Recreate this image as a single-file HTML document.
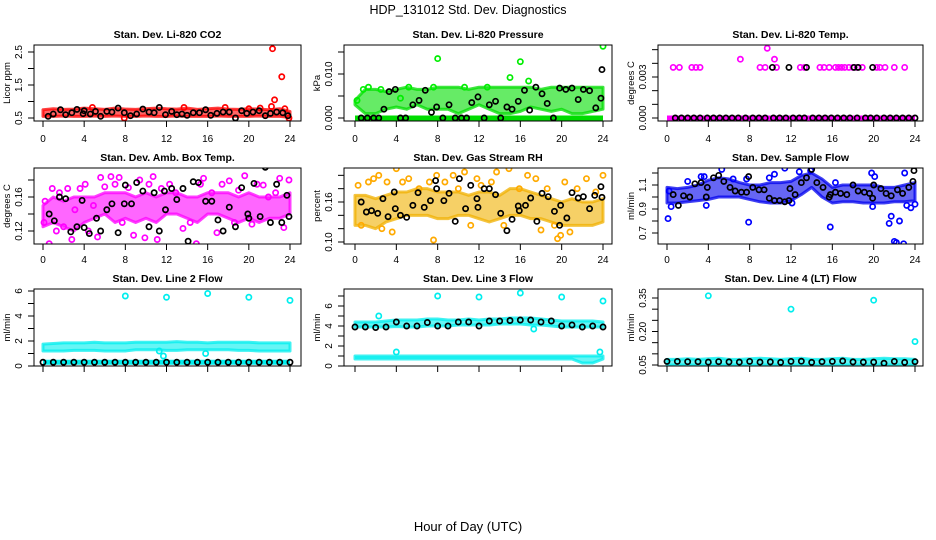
<!DOCTYPE html>
<html><head><meta charset="utf-8">
<style>
html,body{margin:0;padding:0;background:#fff;}
svg{display:block;font-family:"Liberation Sans",sans-serif;}
</style></head>
<body>
<svg id="chart" width="936" height="540" viewBox="0 0 936 540" xmlns="http://www.w3.org/2000/svg">
<rect width="936" height="540" fill="#fff"/>
<text x="468" y="14" font-size="12.5" text-anchor="middle">HDP_131012  Std. Dev. Diagnostics</text>
<text x="468" y="531" font-size="13" text-anchor="middle">Hour of Day (UTC)</text>
</svg>
<script>
const hours=[0,1,2,3,4,5,6,7,8,9,10,11,12,13,14,15,16,17,18,19,20,21,22,23,24];
const xTicks=[0,4,8,12,16,20,24];
const xTickLabels=["0","4","8","12","16","20","24"];
const panelTitles=["Stan. Dev. Li-820 CO2","Stan. Dev. Li-820 Pressure","Stan. Dev. Li-820 Temp.","Stan. Dev. Amb. Box Temp.","Stan. Dev. Gas Stream RH","Stan. Dev. Sample Flow","Stan. Dev. Line 2 Flow","Stan. Dev. Line 3 Flow","Stan. Dev. Line 4 (LT) Flow"];
const yTitles=["Licor ppm","kPa","degrees C","degrees C","percent","ml/min","ml/min","ml/min","ml/min"];

// P1 CO2
const co2Lo=[0.55,0.55,0.56,0.55,0.55,0.56,0.55,0.56,0.55,0.55,0.56,0.55,0.55,0.56,0.55,0.55,0.55,0.56,0.55,0.55,0.55,0.56,0.55,0.55,0.52];
const co2Hi=[0.75,0.78,0.76,0.77,0.8,0.78,0.76,0.8,0.77,0.76,0.78,0.8,0.78,0.77,0.8,0.76,0.78,0.8,0.77,0.76,0.78,0.77,0.75,0.78,0.7];
const co2RedX=[22.3,23.2,22.5,22.2,7.9,13.7,23.9,4.8,17.7,20.0,21.1,23.5];
const co2RedY=[2.6,1.75,1.05,0.85,0.5,0.82,0.5,0.82,0.82,0.78,0.8,0.78];
const co2BlkX=[0.5,1.0,1.7,2.2,2.8,3.3,3.9,4.0,4.6,5.1,5.6,6.2,6.7,7.3,7.9,8.5,9.1,9.7,10.3,10.8,11.3,11.9,12.5,13.0,13.5,14.0,14.6,15.2,15.8,16.3,16.9,17.5,18.1,18.7,19.3,19.8,20.4,21.0,21.6,22.1,22.7,23.3,23.8];
const co2BlkY=[0.55,0.62,0.75,0.6,0.66,0.76,0.63,0.72,0.62,0.7,0.55,0.7,0.68,0.8,0.66,0.57,0.62,0.77,0.68,0.66,0.82,0.6,0.7,0.6,0.62,0.58,0.66,0.66,0.75,0.58,0.64,0.68,0.68,0.5,0.72,0.64,0.68,0.72,0.57,0.64,0.68,0.66,0.57];
// P2 pressure
const presLo=[0.003,0.001,0.001,0.002,0.0025,0.002,0.003,0.002,0.002,0.002,0.001,0.002,0.003,0.002,0.001,0.001,0.0015,0.0025,0.002,0.0015,0.002,0.001,0.001,0.0015,0.002];
const presHi=[0.004,0.0065,0.0065,0.006,0.0065,0.007,0.0065,0.0065,0.007,0.007,0.007,0.0065,0.007,0.007,0.007,0.007,0.007,0.007,0.0065,0.007,0.007,0.007,0.007,0.007,0.007];
const presZero=[0,0,0,0,0,0,0,0,0,0,0,0,0,0,0,0,0,0,0,0,0,0,0,0,0];
const presGrnX=[8,16,15,16.8,24,0.2,1.3,0.8,2.5,4.4,5.2,7.6,10.6,12.8];
const presGrnY=[0.0135,0.0128,0.0092,0.0084,0.0163,0.004,0.007,0.0065,0.0065,0.0045,0.007,0.007,0.007,0.007];
const presBlkX=[0.6,1.2,1.8,2.3,2.8,3.3,3.9,4.4,4.9,5.6,6.2,6.8,7.4,7.9,8.5,9.1,9.7,10.3,10.8,11.3,11.9,12.5,13.0,13.6,14.1,14.7,15.2,15.8,16.4,16.9,17.5,18.1,18.6,19.2,19.8,20.4,21.0,21.6,22.1,22.7,23.3,23.8,23.9];
const presBlkY=[0,0,0,0,0.002,0.006,0.0065,0,0,0.003,0.004,0.0063,0.0013,0.0025,0,0.003,0,0,0,0.0035,0.0048,0,0.003,0.0038,0,0.0025,0.002,0.0038,0.0063,0.0018,0.007,0.0055,0.0033,0,0.0068,0.0065,0.0068,0.0042,0.0065,0.0062,0.0023,0.0045,0.011];
// P3 Li-820 temp
const tmpZero=[0,0,0,0,0,0,0,0,0,0,0,0,0,0,0,0,0,0,0,0,0,0,0,0,0];
const tmpMagX=[0.6,1.2,2.4,2.8,3.2,9.0,9.5,10.6,12.9,13.3,14.8,15.2,15.7,16.3,16.6,16.9,17.2,17.6,18.0,18.4,18.9,20.3,20.6,21.1,22.0,23.0,7.1,9.7,10.4];
const tmpMagY=[0.0037,0.0037,0.0037,0.0037,0.0037,0.0037,0.0037,0.0037,0.0037,0.0037,0.0037,0.0037,0.0037,0.0037,0.0037,0.0037,0.0037,0.0037,0.0037,0.0037,0.0037,0.0037,0.0037,0.0037,0.0037,0.0037,0.0043,0.0051,0.0043];
const tmpBlkX=[0.8,1.4,2.0,2.6,3.2,3.9,4.5,5.1,5.7,6.3,6.9,7.6,8.3,8.9,9.5,10.3,10.9,11.5,12.2,12.8,13.3,14.1,14.7,15.3,15.9,16.5,17.1,17.7,18.4,19.2,19.7,20.3,21.0,21.6,22.2,22.8,23.4,24.0,10.2,11.8,13.5,18.1,18.5,19.9];
const tmpBlkY=[0,0,0,0,0,0,0,0,0,0,0,0,0,0,0,0,0,0,0,0,0,0,0,0,0,0,0,0,0,0,0,0,0,0,0,0,0,0,0.0037,0.0037,0.0037,0.0037,0.0037,0.0037];
// P4 amb box temp
const ambLo=[0.125,0.13,0.125,0.12,0.13,0.135,0.14,0.13,0.135,0.13,0.135,0.13,0.14,0.14,0.135,0.13,0.14,0.14,0.135,0.13,0.135,0.13,0.135,0.135,0.14];
const ambHi=[0.15,0.16,0.155,0.16,0.16,0.16,0.165,0.165,0.165,0.16,0.165,0.16,0.165,0.165,0.16,0.16,0.165,0.165,0.165,0.16,0.165,0.16,0.16,0.16,0.165];
const ambMagX=[0.1,0.2,0.6,0.9,1.3,1.6,2.0,2.4,2.8,3.1,3.6,4.1,4.4,4.9,5.3,5.6,6.0,6.6,7.0,7.4,7.7,8.3,8.8,9.4,9.9,10.3,10.7,11.1,11.5,12.3,12.9,13.6,14.3,14.9,15.3,15.6,16.4,16.9,17.4,18.1,18.6,19.0,19.6,19.9,20.3,20.8,21.4,21.9,22.3,22.6,23.0,23.4,23.9];
const ambMagY=[0.13,0.155,0.105,0.17,0.12,0.165,0.125,0.17,0.11,0.145,0.17,0.175,0.12,0.15,0.113,0.183,0.172,0.184,0.175,0.183,0.13,0.171,0.115,0.18,0.112,0.175,0.184,0.11,0.17,0.175,0.165,0.123,0.13,0.105,0.175,0.182,0.165,0.118,0.175,0.179,0.13,0.168,0.185,0.199,0.128,0.175,0.174,0.16,0.098,0.165,0.182,0.124,0.18];
const ambBlkX=[0.6,1.1,1.6,2.2,2.7,3.3,3.8,4.0,4.5,5.2,5.6,6.2,6.7,7.3,7.9,8.0,8.6,9.1,9.7,10.3,10.8,11.3,11.8,11.9,12.5,13.0,13.6,14.1,14.6,15.1,15.8,15.9,16.4,17.0,17.5,18.1,18.7,19.3,19.9,20.0,20.5,21.1,21.6,22.1,22.7,23.2,23.7,23.9];
const ambBlkY=[0.14,0.132,0.16,0.158,0.119,0.125,0.156,0.124,0.117,0.135,0.12,0.145,0.152,0.118,0.152,0.174,0.152,0.177,0.167,0.125,0.165,0.12,0.167,0.145,0.17,0.157,0.17,0.108,0.178,0.177,0.155,0.2,0.155,0.133,0.12,0.148,0.125,0.171,0.14,0.135,0.176,0.137,0.195,0.13,0.175,0.13,0.162,0.137];
// P5 RH
const rhLo=[0.125,0.125,0.12,0.13,0.135,0.14,0.14,0.14,0.135,0.135,0.14,0.14,0.135,0.13,0.135,0.14,0.14,0.135,0.135,0.13,0.125,0.125,0.125,0.125,0.13];
const rhHi=[0.17,0.17,0.165,0.17,0.175,0.175,0.18,0.18,0.175,0.175,0.175,0.17,0.175,0.175,0.17,0.18,0.18,0.175,0.17,0.165,0.16,0.165,0.16,0.16,0.165];
const rhOrX=[0.3,0.6,1.3,1.8,2.3,2.6,3.1,3.6,4.0,4.6,5.2,6.2,7.2,7.6,7.9,8.7,9.5,10.0,10.6,11.2,11.8,12.2,13.2,13.7,14.4,14.9,15.9,16.7,17.5,18.0,18.6,19.3,19.6,19.9,20.3,20.8,21.5,22.4,23.3,24.0];
const rhOrY=[0.185,0.125,0.19,0.195,0.2,0.12,0.19,0.115,0.21,0.19,0.195,0.18,0.19,0.103,0.2,0.19,0.2,0.18,0.205,0.125,0.195,0.185,0.19,0.205,0.125,0.21,0.18,0.2,0.195,0.118,0.18,0.125,0.105,0.11,0.19,0.115,0.18,0.195,0.175,0.2];
const rhBlkX=[0.6,1.1,1.6,2.2,2.7,3.2,3.8,3.9,4.4,5.0,5.6,6.1,6.7,7.3,7.8,7.9,8.6,9.1,9.7,10.1,10.7,11.2,11.8,11.9,12.5,13.0,13.6,14.1,14.7,15.2,15.8,15.9,16.5,17.0,17.6,18.1,18.7,19.3,19.8,19.9,20.5,21.0,21.6,22.1,22.7,23.2,23.8,23.9];
const rhBlkY=[0.16,0.145,0.147,0.143,0.165,0.138,0.175,0.15,0.14,0.137,0.155,0.174,0.152,0.162,0.192,0.18,0.162,0.173,0.131,0.195,0.15,0.185,0.165,0.152,0.18,0.18,0.171,0.143,0.117,0.134,0.154,0.147,0.155,0.166,0.131,0.173,0.168,0.146,0.125,0.155,0.136,0.174,0.166,0.168,0.15,0.17,0.183,0.167];
// P6 sample flow
const sfLo=[0.95,0.95,0.96,0.97,0.98,1.0,1.0,1.0,0.98,0.96,0.95,0.95,0.97,1.02,1.08,1.0,0.95,0.96,0.96,0.95,0.95,0.95,0.96,0.96,0.97];
const sfHi=[1.08,1.07,1.08,1.1,1.14,1.16,1.15,1.12,1.1,1.1,1.12,1.12,1.13,1.18,1.2,1.15,1.08,1.1,1.1,1.1,1.1,1.08,1.08,1.1,1.12];
const sfBluX=[0.1,0.2,0.4,2.0,3.3,3.6,3.8,5.3,6.4,7.7,7.9,9.9,10.4,11.4,12.8,12.1,15.8,16.3,19.8,19.9,20.1,21.5,21.7,22.0,22.2,22.5,22.9,23.2,23.6,24.0,23.0,13.9];
const sfBluY=[0.82,1.05,0.92,1.13,1.17,1.17,0.93,1.23,1.15,1.15,0.79,1.16,1.19,1.24,1.21,0.95,0.75,1.12,1.2,0.92,1.17,0.78,0.84,0.63,0.62,0.8,0.61,0.93,0.91,0.94,1.2,1.22];
const sfBlkX=[0.6,1.1,1.6,2.2,2.7,3.3,3.8,3.9,4.5,5.0,5.5,6.1,6.6,7.2,7.7,7.9,8.3,8.9,9.4,9.9,10.4,10.9,11.4,11.8,11.9,12.4,13.0,13.5,14.0,14.5,15.1,15.7,15.8,16.3,16.8,17.4,18.0,18.5,19.1,19.6,19.9,20.0,20.7,21.2,21.7,22.3,22.8,23.4,23.8,23.9];
const sfBlkY=[1.02,0.93,1.01,1.0,1.11,1.12,1.0,1.08,1.16,1.18,1.13,1.08,1.05,1.04,1.04,1.17,1.08,1.06,1.06,0.99,0.97,0.97,0.96,0.97,1.07,1.02,1.12,1.16,1.23,1.12,1.08,1.0,1.02,1.04,1.03,1.02,1.1,1.05,1.04,1.03,0.99,1.1,1.07,1.03,1.01,1.06,1.03,1.08,1.13,1.22];
// P7 line 2
const l2Lo=[1.2,1.2,1.2,1.25,1.25,1.25,1.2,1.2,1.2,1.3,1.3,1.3,1.25,1.25,1.3,1.3,1.3,1.3,1.3,1.25,1.25,1.2,1.2,1.2,1.2];
const l2Hi=[1.75,1.8,1.85,1.85,1.85,1.9,1.85,1.85,1.85,1.9,1.9,1.9,1.9,1.95,1.9,1.9,1.85,1.9,1.9,1.9,1.9,1.85,1.85,1.85,1.85];
const l2Base=[0.3,0.3,0.3,0.3,0.3,0.3,0.3,0.3,0.3,0.3,0.3,0.3,0.3,0.3,0.3,0.3,0.3,0.3,0.3,0.3,0.3,0.3,0.3,0.3,0.3];
const l2CyX=[8,12,16,20,24,11.7,11.3,15.8];
const l2CyY=[5.6,5.5,5.8,5.5,5.25,0.8,1.2,1.0];
// P8 line 3
const l3LoA=[0.7,0.7,0.7,0.7,0.7,0.7,0.7,0.7,0.7,0.7,0.7,0.7,0.7,0.7,0.7,0.7,0.7,0.7,0.7,0.7,0.7,0.7,0.3,0.3,0.7];
const l3HiA=[1.0,1.0,1.0,1.0,1.0,1.0,1.0,1.0,1.0,1.0,1.0,1.0,1.0,1.0,1.0,1.0,1.0,1.0,1.0,1.0,1.0,1.0,1.0,1.0,1.0];
const l3LoB=[3.9,3.9,3.9,3.9,3.95,3.9,3.9,4.0,4.0,4.0,4.1,4.1,4.1,4.1,4.2,4.2,4.2,4.1,4.1,4.0,3.9,3.9,3.9,3.9,3.9];
const l3HiB=[4.4,4.4,4.4,4.5,4.6,4.6,4.6,4.7,4.7,4.6,4.6,4.7,4.6,4.7,4.7,4.8,4.8,4.8,4.7,4.6,4.5,4.5,4.5,4.5,4.4];
const l3Blk=[3.9,3.9,3.85,3.9,4.4,4.0,4.0,4.35,4.0,4.0,4.4,4.4,4.0,4.5,4.5,4.55,4.6,4.6,4.4,4.5,4.0,4.1,3.9,4.0,3.9];
const l3CyX=[2.3,4.0,8,12,16,20,24,23.7,17.3];
const l3CyY=[5.0,1.4,7.0,6.9,7.3,6.9,6.5,1.4,3.7];
// P9 line 4
const l4Lo=[0.05,0.05,0.05,0.05,0.05,0.05,0.05,0.05,0.05,0.05,0.05,0.05,0.05,0.05,0.05,0.05,0.05,0.05,0.05,0.05,0.05,0.05,0.05,0.05,0.05];
const l4Hi=[0.075,0.075,0.078,0.075,0.078,0.08,0.075,0.075,0.078,0.08,0.078,0.075,0.078,0.08,0.075,0.075,0.078,0.08,0.075,0.075,0.078,0.08,0.078,0.078,0.075];
const l4Blk=[0.066,0.066,0.065,0.065,0.063,0.065,0.064,0.063,0.066,0.063,0.064,0.062,0.066,0.067,0.062,0.065,0.066,0.068,0.064,0.063,0.063,0.058,0.066,0.062,0.065];
const l4CyX=[4,12,20,24];
const l4CyY=[0.36,0.30,0.34,0.155];

const cols=[{L:34,R:301,x0:43,x24:290},{L:344,R:612,x0:355,x24:603},{L:658,R:923,x0:667,x24:915}];
const rows=[{T:45,B:121,tl:38,xl:142},{T:168,B:244,tl:161,xl:263},{T:289,B:366,tl:282,xl:null}];
const NS="http://www.w3.org/2000/svg";
const svg=document.getElementById('chart');
function mk(tag,attrs,parent){const e=document.createElementNS(NS,tag);for(const k in attrs)e.setAttribute(k,attrs[k]);(parent||svg).appendChild(e);return e;}

const panels=[
 {c:0,r:0,ya:[0.5,118,2.5,52],ticks:[0.5,1,1.5,2,2.5],labs:[0.5,1.5,2.5],fmt:1,bands:[[co2Lo,co2Hi,'#ff0000']],lines:[],pts:[[co2RedX,co2RedY,'#ff0000'],[co2BlkX,co2BlkY,'#000']]},
 {c:1,r:0,ya:[0,118,0.01,74],ticks:[0,0.005,0.01,0.015],labs:[0,0.01],fmt:3,bands:[[presLo,presHi,'#00dd00']],lines:[[presZero,'#00dd00']],pts:[[presGrnX,presGrnY,'#00ee00'],[presBlkX,presBlkY,'#000']]},
 {c:2,r:0,ya:[0,118,0.003,77],ticks:[0,0.001,0.002,0.003,0.004,0.005],labs:[0,0.003],fmt:3,bands:[],lines:[[tmpZero,'#ff00ff']],pts:[[tmpMagX,tmpMagY,'#ff00ff'],[tmpBlkX,tmpBlkY,'#000']]},
 {c:0,r:1,ya:[0.12,231,0.16,197],ticks:[0.12,0.14,0.16,0.18],labs:[0.12,0.16],fmt:2,bands:[[ambLo,ambHi,'#ff00ff']],lines:[],pts:[[ambMagX,ambMagY,'#ff00ff'],[ambBlkX,ambBlkY,'#000']]},
 {c:1,r:1,ya:[0.10,242,0.16,202],ticks:[0.10,0.12,0.14,0.16,0.18,0.20],labs:[0.10,0.16],fmt:2,bands:[[rhLo,rhHi,'#f0b000']],lines:[],pts:[[rhOrX,rhOrY,'#ffaa00'],[rhBlkX,rhBlkY,'#000']]},
 {c:2,r:1,ya:[0.7,233,1.1,185],ticks:[0.7,0.8,0.9,1.0,1.1,1.2],labs:[0.7,0.9,1.1],fmt:1,bands:[[sfLo,sfHi,'#0000ee']],lines:[],pts:[[sfBluX,sfBluY,'#0000ff'],[sfBlkX,sfBlkY,'#000']]},
 {c:0,r:2,ya:[0,366,6,291],ticks:[0,1,2,3,4,5,6],labs:[0,2,4,6],fmt:0,bands:[[l2Lo,l2Hi,'#00eeee']],lines:[[l2Base,'#00eeee']],pts:[[l2CyX,l2CyY,'#00eeee'],[hours,l2Base,'#000']]},
 {c:1,r:2,ya:[0,366,6,306],ticks:[0,1,2,3,4,5,6,7],labs:[0,2,4,6],fmt:0,bands:[[l3LoA,l3HiA,'#00eeee'],[l3LoB,l3HiB,'#00eeee']],lines:[],pts:[[l3CyX,l3CyY,'#00eeee'],[hours,l3Blk,'#000']]},
 {c:2,r:2,ya:[0.05,365,0.35,298],ticks:[0.05,0.1,0.15,0.2,0.25,0.3,0.35],labs:[0.05,0.2,0.35],fmt:2,bands:[[l4Lo,l4Hi,'#00eeee']],lines:[],pts:[[l4CyX,l4CyY,'#00eeee'],[hours,l4Blk,'#000']]}
];

panels.forEach((p,i)=>{
 const C=cols[p.c],R=rows[p.r];
 const xs=v=>C.x0+(C.x24-C.x0)*v/24;
 const ys=v=>p.ya[1]+(p.ya[3]-p.ya[1])*(v-p.ya[0])/(p.ya[2]-p.ya[0]);
 const g=mk('g',{});
 
 
 const cid='clip'+i;
 const cp=mk('clipPath',{id:cid},g);mk('rect',{x:C.L,y:R.T,width:C.R-C.L,height:R.B-R.T},cp);
 const plot=mk('g',{'clip-path':'url(#'+cid+')'},g);
 p.bands.forEach(b=>{
  let d='';hours.forEach((h,k)=>{d+=(k?'L':'M')+xs(h)+' '+ys(b[1][k]);});
  for(let k=hours.length-1;k>=0;k--)d+='L'+xs(hours[k])+' '+ys(b[0][k]);
  const e=mk('path',{d:d+'Z',fill:b[2],'fill-opacity':0.6,stroke:b[2],'stroke-opacity':0.75,'stroke-width':3,'stroke-linejoin':'round'},plot);
  
  
 });
 p.lines.forEach(l=>{
  let d='';hours.forEach((h,k)=>{d+=(k?'L':'M')+xs(h)+' '+ys(l[0][k]);});
  const e=mk('path',{d:d,fill:'none',stroke:l[1],'stroke-width':5},plot);
  
  
 });
 p.pts.forEach(s=>{
  const n=Math.min(s[0].length,s[1].length);
  for(let k=0;k<n;k++){
   const e=mk('circle',{cx:xs(s[0][k]),cy:ys(s[1][k]),r:2.6,fill:'none',stroke:s[2],'stroke-width':1.7},plot);
   
   
  }
 });
 const box=mk('rect',{x:C.L,y:R.T,width:C.R-C.L,height:R.B-R.T,fill:'none',stroke:'#000','stroke-width':1},g);
 
 
 mk('line',{x1:xs(0),x2:xs(24),y1:R.B,y2:R.B,stroke:'#000'},g);
 xTicks.forEach((t,k)=>{
  mk('line',{x1:xs(t),x2:xs(t),y1:R.B,y2:R.B+6,stroke:'#000'},g);
  if(R.xl){const e=mk('text',{x:xs(t),y:R.xl,'font-size':10,'text-anchor':'middle'},g);e.textContent=xTickLabels[k];
   
   }
 });
 mk('line',{x1:C.L,x2:C.L,y1:ys(p.ticks[0]),y2:ys(p.ticks[p.ticks.length-1]),stroke:'#000'},g);
 p.ticks.forEach(t=>mk('line',{x1:C.L-6,x2:C.L,y1:ys(t),y2:ys(t),stroke:'#000'},g));
 p.labs.forEach(t=>{
  const lx=C.L-12,ly=ys(t);
  const e=mk('text',{x:lx,y:ly,'font-size':10,'text-anchor':'middle',transform:'rotate(-90 '+lx+' '+ly+')'},g);
  e.textContent=t.toFixed(p.fmt);
  
  
 });
 const tx=C.L-24,ty=(R.T+R.B)/2;
 const yt=mk('text',{x:tx,y:ty,'font-size':9.5,'text-anchor':'middle',transform:'rotate(-90 '+tx+' '+ty+')'},g);
 yt.textContent=yTitles[i];
 
 
 const tt=mk('text',{x:(C.L+C.R)/2,y:R.tl,'font-size':10.5,'font-weight':'bold','text-anchor':'middle'},g);
 tt.textContent=panelTitles[i];
 
 
});
</script>
</body></html>
